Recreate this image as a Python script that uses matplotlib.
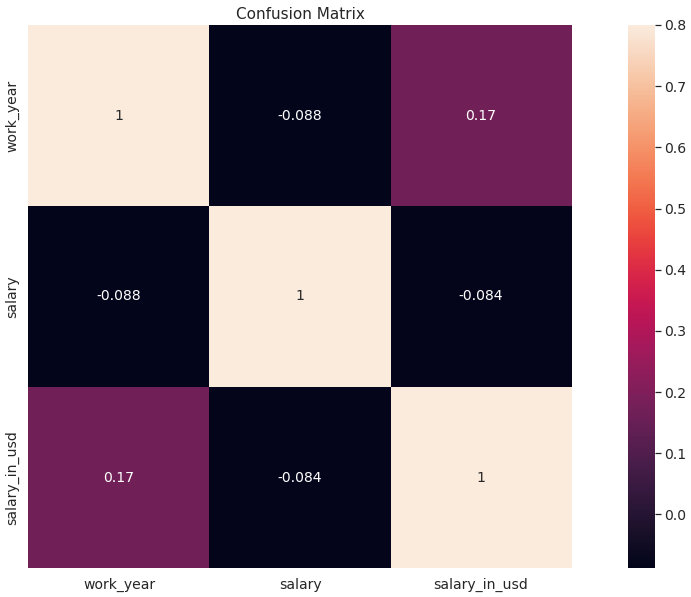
import matplotlib
matplotlib.use("Agg")
import matplotlib.pyplot as plt
import seaborn as sns
import numpy as np
import pandas as pd

labels = ["work_year", "salary", "salary_in_usd"]
row_work_year = [1.0, -0.0877, 0.1703]
row_salary = [-0.0877, 1.0, -0.0837]
row_salary_usd = [0.1703, -0.0837, 1.0]

corr = pd.DataFrame([row_work_year, row_salary, row_salary_usd], index=labels, columns=labels)

sns.set_theme(style="darkgrid", font_scale=1.2)
plt.rcParams['font.family'] = ['DejaVu Sans']
plt.rcParams['xtick.labelsize'] = 14
plt.rcParams['ytick.labelsize'] = 14

fig = plt.figure(figsize=(691/72, 597/72), dpi=72)
ax = fig.add_axes([28/691, 29/597, 544/691, 543/597])
cax = fig.add_axes([628/691, 29/597, 27/691, 543/597])

sns.heatmap(corr, vmax=0.8, square=True, annot=True, ax=ax, cbar_ax=cax,
            annot_kws={"fontsize": 14})
ax.tick_params(labelsize=14)
cax.tick_params(labelsize=14)
ax.set_title("Confusion Matrix", fontsize=15.2)
fig.savefig("out.png", dpi=72, facecolor="white")
